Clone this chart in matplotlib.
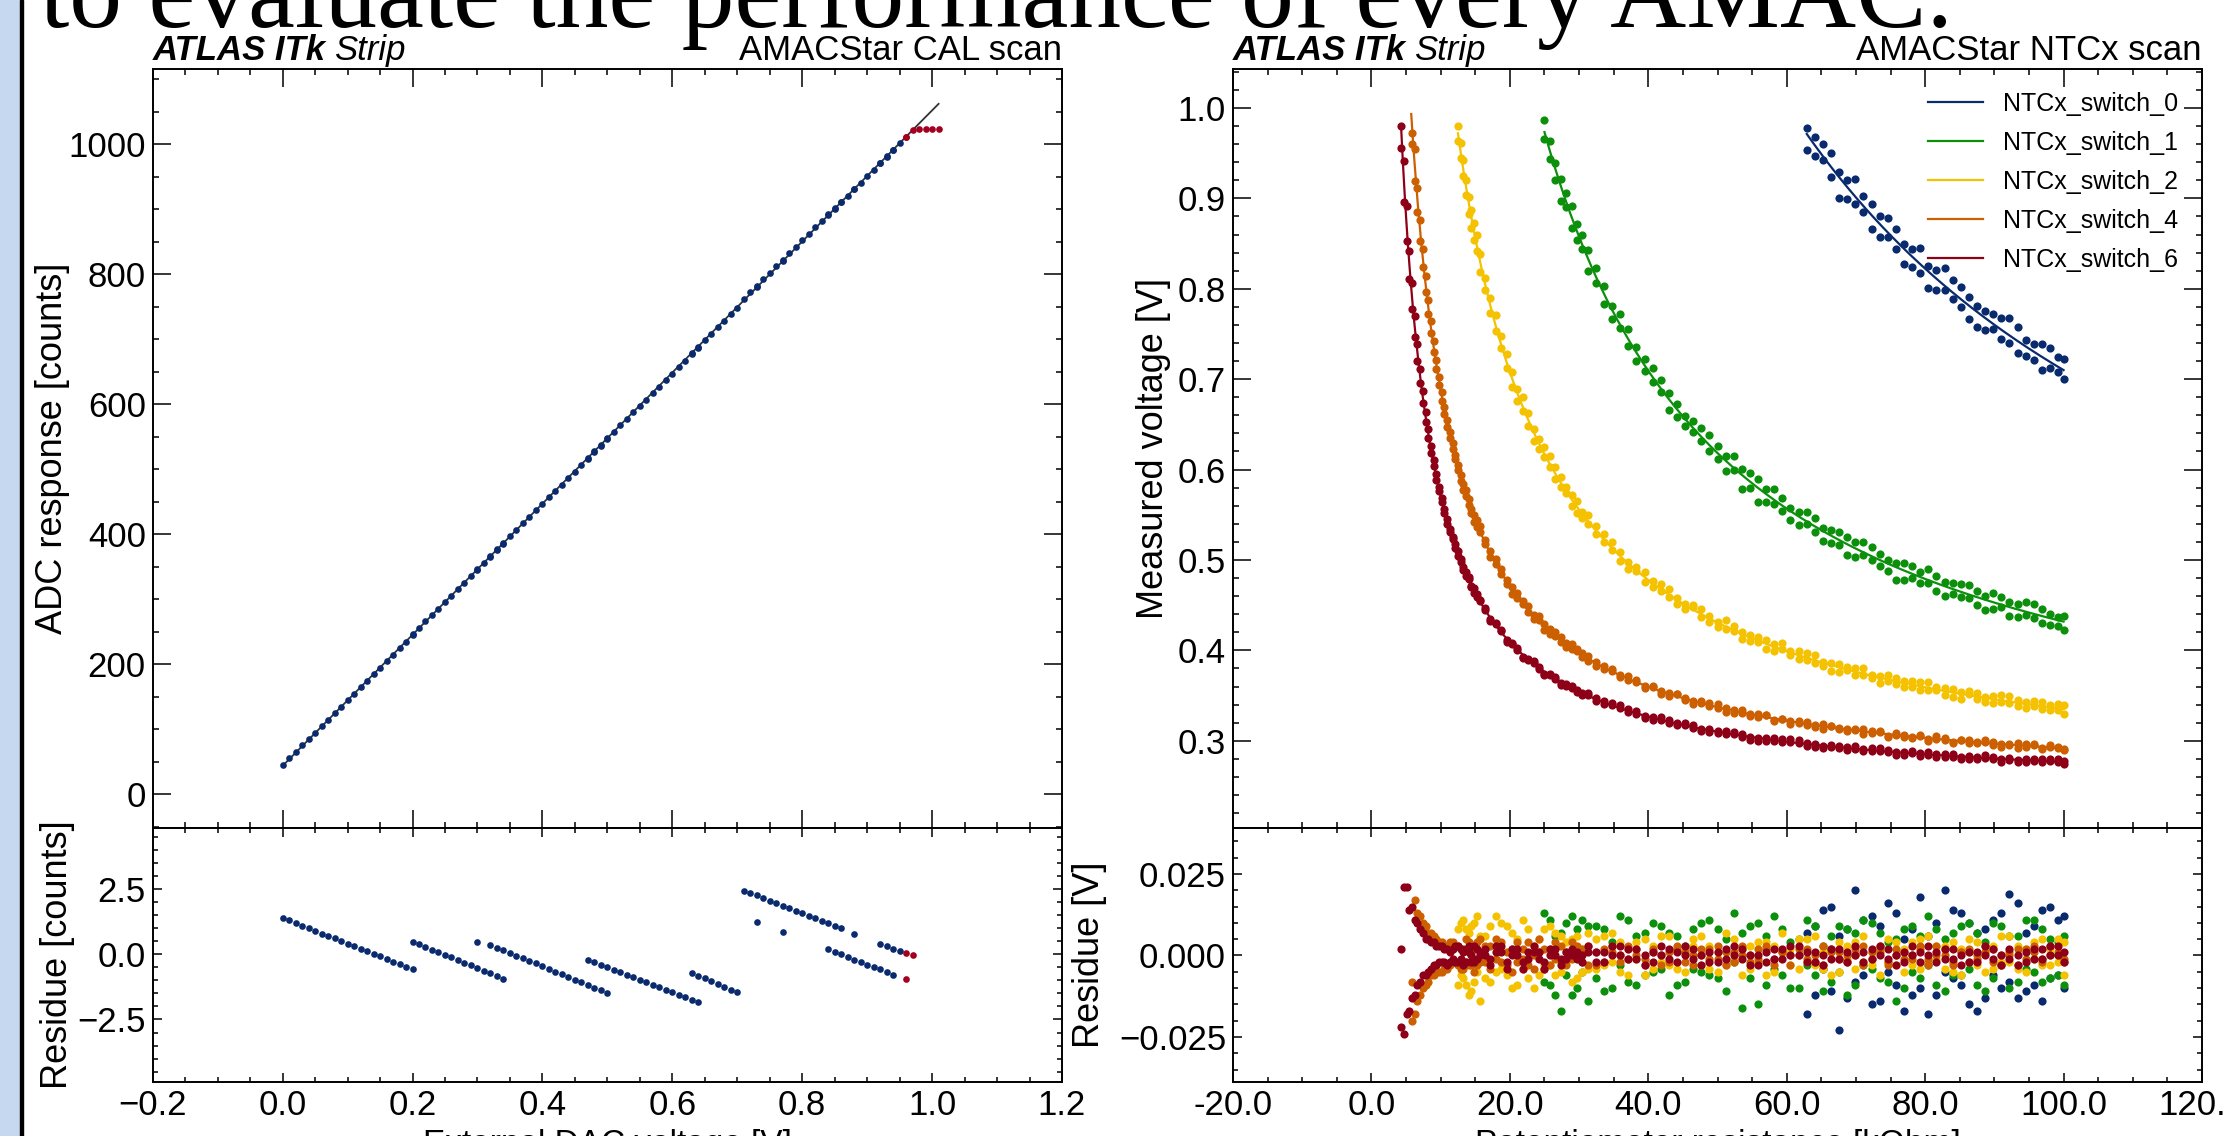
import matplotlib
matplotlib.use("Agg")
import matplotlib.pyplot as plt
import numpy as np
from matplotlib import font_manager
from matplotlib.ticker import MultipleLocator, FuncFormatter
from matplotlib.patches import Rectangle

plt.rcParams['font.family'] = ['Liberation Sans', 'DejaVu Sans']
plt.rcParams['axes.unicode_minus'] = True

# ---------------- AMACStar CAL scan ----------------
# external DAC voltage of the points used in the fit [V]
dac_v = [0.00, 0.01, 0.02, 0.03, 0.04, 0.05, 0.06, 0.07, 0.08, 0.09,
         0.10, 0.11, 0.12, 0.13, 0.14, 0.15, 0.16, 0.17, 0.18, 0.19,
         0.20, 0.21, 0.22, 0.23, 0.24, 0.25, 0.26, 0.27, 0.28, 0.29,
         0.30, 0.31, 0.32, 0.33, 0.34, 0.35, 0.36, 0.37, 0.38, 0.39,
         0.40, 0.41, 0.42, 0.43, 0.44, 0.45, 0.46, 0.47, 0.48, 0.49,
         0.50, 0.51, 0.52, 0.53, 0.54, 0.55, 0.56, 0.57, 0.58, 0.59,
         0.60, 0.61, 0.62, 0.63, 0.64, 0.65, 0.66, 0.67, 0.68, 0.69,
         0.70, 0.71, 0.72, 0.73, 0.74, 0.75, 0.76, 0.77, 0.78, 0.79,
         0.80, 0.81, 0.82, 0.83, 0.84, 0.85, 0.86, 0.87, 0.88, 0.89,
         0.90, 0.91, 0.92, 0.93, 0.94, 0.95]
# residue of the ADC reading to the linear fit [counts]
cal_res = [1.40, 1.30, 1.20, 1.10, 1.00, 0.90, 0.80, 0.70, 0.61, 0.51,
           0.41, 0.31, 0.21, 0.11, 0.02, -0.08, -0.18, -0.28, -0.38, -0.48,
           -0.58, 0.38, 0.28, 0.18, 0.08, -0.02, -0.12, -0.22, -0.32, -0.42,
           -0.52, -0.62, -0.72, -0.82, -0.93, 0.05, -0.05, -0.15, -0.25, -0.35,
           -0.45, -0.55, -0.66, -0.76, -0.87, -0.97, -1.07, -1.17, -1.28, -1.38,
           -1.49, -0.59, -0.68, -0.78, -0.88, -0.97, -1.07, -1.17, -1.26, -1.36,
           -1.46, -1.55, -1.65, -1.75, -1.84, -0.92, -1.03, -1.14, -1.25, -1.35,
           -1.46, 2.45, 2.35, 2.26, 2.16, 2.06, 1.97, 1.87, 1.77, 1.68,
           1.58, 1.48, 1.39, 1.29, 1.19, 1.10, 1.00, -0.10, -0.20, -0.29,
           -0.39, -0.49, -0.58, -0.68, -0.78, 0.13]
# repeated readings that landed one ADC count away
cal_extra_v = [0.20, 0.30, 0.32, 0.33, 0.34, 0.47, 0.48, 0.49, 0.50, 0.63,
               0.64, 0.73, 0.77, 0.84, 0.85, 0.86, 0.88, 0.92, 0.93, 0.94]
cal_extra_res = [0.48, 0.48, 0.35, 0.25, 0.15, -0.20, -0.30, -0.39, -0.49, -0.71,
                 -0.82, 1.23, 0.87, 0.19, 0.09, 0.00, 0.78, 0.41, 0.31, 0.22]
# points excluded from the fit (ADC saturating)
sat_v = [0.96, 0.96, 0.97, 0.98, 0.99, 1.00, 1.01]
sat_adc = [1012, 1011, 1022, 1023, 1023, 1023, 1023]
# linear fit
cal_intercept = 43.6
cal_slope = 1008.7
cal_fit_range = [0.0, 1.01]

# ---------------- AMACStar NTCx scan ----------------
# potentiometer codes of the scan, 256 codes over 100 kOhm
pot_codes = [11, 12, 13, 14, 15, 16, 17, 18, 19, 20, 21, 22, 23, 24, 25, 26, 27, 28, 29, 30,
             31, 32, 33, 34, 35, 36, 37, 38, 39, 40,
             42, 44, 46, 48, 50, 52, 54, 56, 58, 60, 62, 64, 66, 68, 70, 72, 74, 76, 78, 80,
             83, 86, 89, 92, 95, 98, 101, 104, 107, 110, 113, 116, 119, 122, 125, 128, 131,
             134, 137, 140, 143, 146, 149, 152, 155, 158, 161, 164, 167, 170, 173, 176, 179,
             182, 185, 188, 191, 194, 197, 200, 203, 206, 209, 212, 215, 218, 221, 224, 227,
             230, 233, 236, 239, 242, 245, 248, 251, 254, 256]
kohm_per_code = 100.0 / 256

ntc_labels = ["NTCx_switch_0", "NTCx_switch_1", "NTCx_switch_2", "NTCx_switch_4", "NTCx_switch_6"]
ntc_colors = ["#0a2a6e", "#0c900c", "#f4c200", "#cc5f00", "#8e0018"]
ntc_first = [76, 41, 21, 4, 0]          # index of first code inside the ADC range
# fit V = c + a / (R + b)
fit_a = [49.33, 19.61, 9.80, 4.596, 3.372]
fit_b = [4.29, 1.705, 0.853, 0.400, 0.293]
fit_c = [0.237, 0.239, 0.238, 0.246, 0.243]
fit_rmin = [62.9, 25.0, 12.5, 5.75, 4.30]

# residues of the two readings per setting [mV]
res_sw0 = [-18, 9, 14, -11, -23, 8, 20, -6, 12, -14, 16, -9, 5, -12, 18, -18, 10, 20, -7, 13,
           -15, -17, 8, 11, -10, 19, -13, 7, -9, 14, 15, -6, 12]
res_sw0_b = [7, -12, -4, 15, 6, -13, -8, 11, -15, 9, -5, 13, -17, 8, -10, 6, -12, -5, 14, -9,
             10, 7, -13, -6, 13, -8, 16, -11, 9, -14, -7, 11, -10]
res_sw1 = [13, -9, 6, -17, 10, -12, 8, 11, -14,
           9, -11, 4, 12, -8, 6, -6, 10, -4, 7, -9, 3, 8, -5, 11, -7, 5, 13, -16, 9,
           -15, 6, -4, 8, -10, 5, 11, -6, 3, -8, 9, -12, 7, -3, 10, -7, 4, -14, 8, -5,
           6, 12, -9, 5, -6, 9, -4, 7, -11, 10, -3, 6, -8, 11, -5, 8, -7, 4, 6]
res_sw1_b = [-8, 11, -12, 7, -6, 12, -10, -5, 9,
             -7, 8, -10, -3, 11, -9, 7, -5, 9, -12, 6, -8, -4, 10, -6, 8, -11, -2, 7, -7,
             10, -9, 12, -6, 4, -10, -3, 9, -11, 6, -5, 8, -9, 11, -4, 7, -8, 5, -10, 9,
             -7, -3, 8, -11, 7, -6, 10, -9, 4, -7, 9, -10, 6, -4, 11, -8, 5, -6, -9]
res_sw2 = [8, -6, 11, -9, 7, -11, 10, -5, -14,
           6, -8, 12, -4, 9, -10, 5, 11, -7, 3, -6, 8, -3, 7, -5, 4, -8, 6, 2, -4,
           5, -3, 7, -5, 2, 4, -6, 3, -2, 6, -4, 1, 5, -3, 3, -5, 7, -1, 2, -4,
           4, -6, 3, 1, -3, 5, -2, 6, -4, 2, -5, 3, 4, -2, 1, -6, 5, -3, 2, 4,
           -4, 6, -1, 3, -5, 2, 5, -3, 1, -4, 6, -2, 3, -5, 4, -3, 2, 5, -6]
res_sw2_b = [-9, 10, -7, 8, -12, 9, -8, 12, 6,
             -7, 9, -5, 10, -6, 7, -9, -4, 8, -10, 5, -3, 9, -6, 6, -2, 5, -7, -5, 7,
             -4, 6, -2, 4, -6, -1, 5, -4, 6, -3, 2, -5, 3, 6, -4, 1, -3, 5, -6, 3,
             -2, 4, -5, 7, 2, -4, 5, -3, 1, -6, 4, -1, -4, 6, -3, 2, -2, 4, -5, -3,
             5, -2, 3, -4, 4, -6, 1, 4, -5, 3, -2, 6, -4, 2, -1, 5, -3, -2, 4]
res_sw4 = [-20, 17, -14, 12, -10, 9, -8, 7, -6, 5, -5, 4, -4, 3, -3, 4, -2, 3, -4, 2,
           5, -3, 1, -5, 4, -2,
           3, -4, 5, -2, 1, -5, 4, 2, -3, 0, 5, -4, 2, -1, 3, -3, 4, 1, -2, 3,
           -3, 2, 1, -2, 3, 0, -1, 2, -3, 1, 3, -2, 0, 2, -1, 3, -3, 1, 0, -2,
           2, 3, -1, 1, -3, 0, 2, -2, 3, 1, -1, 0, 2, -3, 1, 3, -2, 0, 1, -1,
           2, -3, 3, 0, -2, 1, 2, -1, 3, -2, 0, 1, -3, 2, 1, -1, 3, 0, -2]
res_sw4_b = [-8, -18, 13, -12, 10, -9, 7, -6, 6, -5, 4, -5, 3, -4, 4, -2, 3, -3, 2, -4,
             -2, 4, -3, 2, -3, 5,
             -2, 3, -1, 4, -3, 2, -2, -1, 4, -4, 1, 2, -3, 4, -2, 1, -1, 3, 2, -3,
             1, -2, 3, 0, -1, 2, -3, 1, 0, -2, 2, 1, -3, 0, 2, -1, 1, -2, 3, 0,
             -1, 2, -3, 1, 0, 2, -1, 0, -3, 2, 1, -2, 0, 3, -1, 1, -3, 2, -1, 0,
             3, -1, 0, 2, -3, 1, -2, 0, 1, 2, -3, 0, 2, -1, 3, -2, 0, 1, -1]
res_sw6 = [2, -24, 21, -17, 15, -12, 10, -8, 7, -6, 5, -4, 4, -3, 3, -2, 2, -3, 1, 2,
           -2, 3, -1, -3, 2, 1, -2, 3, -1, 0,
           2, -3, 1, 3, -2, 0, 2, -4, 1, 3, -1, -2, 2, 0, -3, 1, 2, -1, 0, 3,
           -2, 1, 3, 0, -1, 2, -3, 1, 0, 2, -2, 3, -1, 0, 1, -2, 2, 3, -1, 0,
           -3, 1, 2, -1, 0, 3, -2, 1, 0, -1, 2, -2, 3, 1, -1, 0, 2, -3, 1, 0,
           -2, 3, 1, -1, 2, 0, -2, 1, 3, -1, 0, 2, -3, 1, -1, 2, 0, 3, -2]
res_sw6_b = [-22, 21, -18, 14, -13, 11, -9, 8, -6, 5, -5, 4, -3, 3, -2, 3, -2, 2, -2, -1,
             3, -2, 2, 1, -2, 3, 0, -2, 2, 1,
             0, -1, 3, 1, -4, 2, 0, -2, -1, 1, 1, -4, 0, 2, -1, -1, 0, 1, -2, 1,
             1, -2, 0, 3, 2, -1, 0, -2, 3, -1, 1, 0, 2, -3, -2, 1, -1, 0, 2, -3,
             0, -2, -1, 2, 3, 0, 1, -2, -3, 2, -1, 1, 0, -2, 2, 3, -1, 0, -2, 3,
             1, 0, -2, 2, -1, -3, 1, -2, 0, 2, -3, -1, 0, -2, 2, -1, 3, 0, 1]
ntc_res = [res_sw0, res_sw1, res_sw2, res_sw4, res_sw6]
ntc_res_b = [res_sw0_b, res_sw1_b, res_sw2_b, res_sw4_b, res_sw6_b]

# ---------------- figure ----------------
W, H = 2226, 1136
fig = plt.figure(figsize=(W / 100, H / 100), dpi=100)

installed = {f.name for f in font_manager.fontManager.ttflist}
if 'Liberation Sans Narrow' in installed:
    narrow, tick_size, head_size = 'Liberation Sans Narrow', 27, 28
else:
    narrow, tick_size, head_size = 'Liberation Sans', 25, 25


def px_axes(x0, x1, y0, y1, sharex=None):
    return fig.add_axes([x0 / W, 1 - y1 / H, (x1 - x0) / W, (y1 - y0) / H], sharex=sharex)


ax_cal = px_axes(152.7, 1062, 69, 828)
ax_cal_r = px_axes(152.7, 1062, 828, 1082, sharex=ax_cal)
ax_ntc = px_axes(1233, 2202, 69, 828)
ax_ntc_r = px_axes(1233, 2202, 828, 1082, sharex=ax_ntc)


def style(ax, major, minor):
    ax.tick_params(which='both', direction='in', top=True, right=True, width=1.1,
                   labelsize=tick_size, labelfontfamily=narrow, pad=5)
    ax.tick_params(which='major', length=major)
    ax.tick_params(which='minor', length=minor)
    for s in ax.spines.values():
        s.set_linewidth(1.4)


for a in (ax_cal, ax_ntc):
    style(a, 13, 4)
    a.tick_params(labelbottom=False)
for a in (ax_cal_r, ax_ntc_r):
    style(a, 6.5, 3.5)

navy = "#0a2a6e"
red = "#a3001f"

# CAL main
xx = np.array(cal_fit_range)
ax_cal.plot(xx, cal_intercept + cal_slope * xx, color="#333333", lw=1.3, zorder=1)
v = np.array(dac_v + cal_extra_v)
r = np.array(cal_res + cal_extra_res)
ax_cal.plot(v, cal_intercept + cal_slope * v + r, 'o', color=navy, ms=4.8, mew=0, zorder=2)
ax_cal.plot(sat_v, sat_adc, 'o', color=red, ms=4.8, mew=0, zorder=3)
# CAL residue
ax_cal_r.plot(v, r, 'o', color=navy, ms=4.8, mew=0)
sv = np.array(sat_v)
ax_cal_r.plot(sv, np.array(sat_adc) - (cal_intercept + cal_slope * sv), 'o', color=red, ms=4.8, mew=0)

ax_cal.set_xlim(-0.2, 1.2)
ax_cal.set_ylim(-52, 1116)
ax_cal.xaxis.set_major_locator(MultipleLocator(0.2))
ax_cal.xaxis.set_minor_locator(MultipleLocator(0.05))
ax_cal.yaxis.set_major_locator(MultipleLocator(200))
ax_cal.yaxis.set_minor_locator(MultipleLocator(50))
ax_cal_r.set_ylim(-4.9, 4.85)
ax_cal_r.yaxis.set_major_locator(MultipleLocator(2.5))
ax_cal_r.yaxis.set_minor_locator(MultipleLocator(0.5))
ax_cal_r.xaxis.set_major_formatter(FuncFormatter(lambda x, p: f"{x:.1f}".replace("-", "\u2212")))

# NTC
for lab, col, i0, a, b, c, rmin, res, res_b in zip(ntc_labels, ntc_colors, ntc_first, fit_a,
                                                   fit_b, fit_c, fit_rmin, ntc_res, ntc_res_b):
    rr = np.linspace(rmin, 100, 400)
    ax_ntc.plot(rr, c + a / (rr + b), color=col, lw=1.6, label=lab, zorder=2)
    for rs in (res, res_b):
        rk = np.array(pot_codes[i0:i0 + len(rs)]) * kohm_per_code
        dv = np.array(rs) / 1000.0
        ax_ntc.plot(rk, c + a / (rk + b) + dv, 'o', color=col, ms=5.9, mew=0, zorder=2)
        ax_ntc_r.plot(rk, dv, 'o', color=col, ms=5.9, mew=0)

ax_ntc.set_xlim(-20, 120)
ax_ntc.set_ylim(0.2035, 1.0431)
ax_ntc.xaxis.set_major_locator(MultipleLocator(20))
ax_ntc.xaxis.set_minor_locator(MultipleLocator(5))
ax_ntc.yaxis.set_major_locator(MultipleLocator(0.1))
ax_ntc.yaxis.set_minor_locator(MultipleLocator(0.02))
ax_ntc.yaxis.set_major_formatter(FuncFormatter(lambda y, p: f"{y:.1f}"))
ax_ntc_r.set_ylim(-0.0388, 0.0391)
ax_ntc_r.yaxis.set_major_locator(MultipleLocator(0.025))
ax_ntc_r.yaxis.set_minor_locator(MultipleLocator(0.005))
ax_ntc_r.yaxis.set_major_formatter(FuncFormatter(lambda y, p: f"{y:.3f}".replace("-", "\u2212")))
ax_ntc_r.xaxis.set_major_formatter(FuncFormatter(lambda x, p: f"{x:.1f}"))

ax_ntc.legend(loc='upper right', bbox_to_anchor=(0.975, 0.970), frameon=False, fontsize=18,
              handlelength=2.2, handletextpad=0.8, labelspacing=0.6, borderpad=0,
              borderaxespad=0)

# axis labels
ax_cal.set_ylabel("ADC response [counts]", fontsize=26)
ax_cal.yaxis.set_label_coords(-0.091, 0.5)
ax_cal_r.set_ylabel("Residue [counts]", fontsize=26)
ax_cal_r.yaxis.set_label_coords(-0.0855, 0.5)
ax_ntc.set_ylabel("Measured voltage [V]", fontsize=26)
ax_ntc.yaxis.set_label_coords(-0.064, 0.5)
ax_ntc_r.set_ylabel("Residue [V]", fontsize=26)
ax_ntc_r.yaxis.set_label_coords(-0.130, 0.5)

# x labels, cut by the bottom of the slide
fig.text((152.7 + 1062) / 2 / W, -0.015, "External DAC voltage [V]", fontsize=24,
         ha='center', va='baseline')
fig.text((1233 + 2202) / 2 / W, -0.015, "Potentiometer resistance [kOhm]", fontsize=24,
         ha='center', va='baseline')

renderer = fig.canvas.get_renderer()


def atlas_label(ax, right_text):
    t = ax.text(0, 1.012, "ATLAS ITk", transform=ax.transAxes, fontsize=head_size,
                family=narrow, fontweight='bold', fontstyle='italic', va='baseline', ha='left')
    bb = t.get_window_extent(renderer)
    axbb = ax.get_window_extent(renderer)
    ax.text((bb.x1 - axbb.x0 + 8) / axbb.width, 1.012, "Strip", transform=ax.transAxes,
            fontsize=head_size, family=narrow, fontstyle='italic', va='baseline', ha='left')
    ax.text(1, 1.012, right_text, transform=ax.transAxes, fontsize=head_size, family=narrow,
            va='baseline', ha='right')


atlas_label(ax_cal, "AMACStar CAL scan")
atlas_label(ax_ntc, "AMACStar NTCx scan")

# slide decoration: left blue band and the cut heading
fig.add_artist(Rectangle((0, 0), 20 / W, 1, transform=fig.transFigure, color="#c5d8f0", zorder=0))
fig.add_artist(Rectangle((20 / W, 0), 3 / W, 1, transform=fig.transFigure, color="black", zorder=1))
fig.text(40 / W, 1 - 27 / H, "to evaluate the performance of every AMAC.", fontsize=76,
         family=['Liberation Serif', 'DejaVu Serif'], va='baseline', ha='left')

fig.savefig("out.png", dpi=100)
